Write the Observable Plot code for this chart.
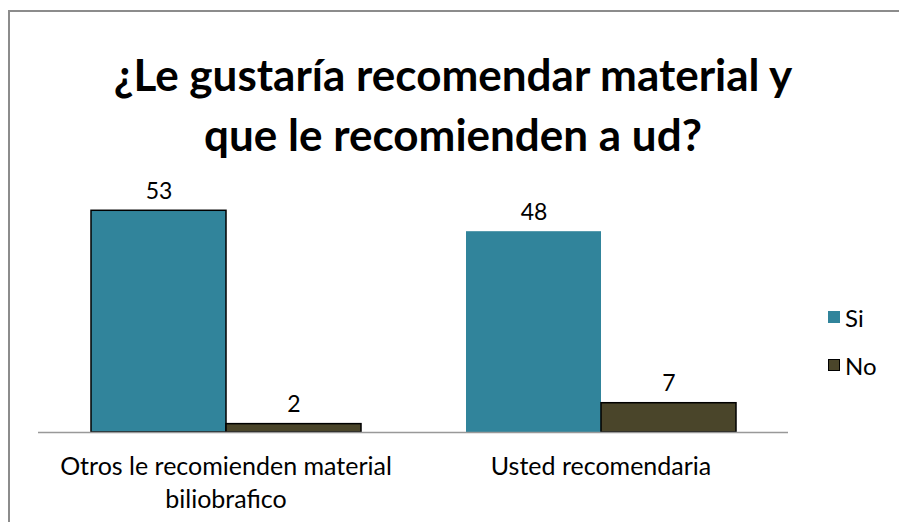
<!DOCTYPE html>
<html><head><meta charset="utf-8">
<script src="https://cdn.jsdelivr.net/npm/d3@7"></script>
<script src="https://cdn.jsdelivr.net/npm/@observablehq/plot@0.6"></script>
<style>
html,body{margin:0;padding:0;background:#fff;overflow:hidden;}
#wrap{position:relative;width:899px;height:522px;overflow:hidden;font-family:Lato,"Open Sans",sans-serif;color:#000;}
#frameTop{position:absolute;left:8px;top:10px;width:891px;height:2px;background:#8c8c8c;}
#frameLeft{position:absolute;left:8px;top:10px;width:2px;height:512px;background:#8c8c8c;}
#title{position:absolute;left:0;width:906px;top:44px;text-align:center;font-weight:bold;font-size:44px;line-height:60px;}
#chart{position:absolute;left:0;top:170px;}
#legend{position:absolute;left:828px;top:302px;font-size:24px;}
.item{display:flex;align-items:center;height:30px;margin-bottom:18px;}
.sw{width:12px;height:12px;margin-right:5px;box-sizing:border-box;}
</style></head>
<body>
<div id="wrap">
  <div id="frameTop"></div>
  <div id="frameLeft"></div>
  <div id="title">¿Le gustaría recomendar material y<br>que le recomienden a ud?</div>
  <div id="chart"></div>
  <div id="legend"></div>
</div>
<script>
const categories = ["Otros le recomienden material biliobrafico", "Usted recomendaria"];
const categoryLabels = ["Otros le recomienden material\nbiliobrafico", "Usted recomendaria"];
const series = ["Si", "No"];
const siValues = [53, 48];
const noValues = [2, 7];
const colors = ["#31849b", "#4a452a"];

const data = categories.flatMap((c, i) => [
  {cat: c, serie: series[0], value: siValues[i]},
  {cat: c, serie: series[1], value: noValues[i]}
]);

const chart = Plot.plot({
  width: 899, height: 352,
  marginLeft: 37, marginRight: 111, marginTop: 11, marginBottom: 90,
  style: {fontFamily: "Lato, 'Open Sans', sans-serif", fontSize: "22px", color: "#000", background: "transparent"},
  fx: {domain: categories, padding: 0, label: null},
  x: {domain: series, paddingInner: 0, paddingOuter: 0.386, axis: null},
  y: {domain: [0, 60], axis: null},
  color: {domain: series, range: colors},
  marks: [
    Plot.barY(data, {fx: "cat", x: "serie", y: "value", fill: "serie", inset: 0}),
    Plot.barY(data, {filter: d => d.serie === series[1] || d.cat === categories[0], fx: "cat", x: "serie", y: "value", fill: "serie", stroke: "#000", strokeWidth: 1.5, inset: 0}),
    Plot.ruleY([0], {stroke: "#999", strokeWidth: 1.5}),
    Plot.text(data, {fx: "cat", x: "serie", y: "value", text: d => String(d.value), lineAnchor: "bottom", dy: -12, fontSize: 23, fill: "#000"}),
    Plot.axisFx({anchor: "bottom", label: null, tickSize: 0, tickPadding: 19, fontSize: 25, lineHeight: 1.33,
      tickFormat: d => categoryLabels[categories.indexOf(d)]})
  ]
});
document.getElementById("chart").appendChild(chart);

const legend = document.getElementById("legend");
series.forEach((s, i) => {
  const item = document.createElement("div");
  item.className = "item";
  const sw = document.createElement("div");
  sw.className = "sw";
  sw.style.background = colors[i];
  if (i === 1) sw.style.border = "1.5px solid #000";
  const t = document.createElement("span");
  t.textContent = s;
  item.appendChild(sw); item.appendChild(t);
  legend.appendChild(item);
});
</script>
</body></html>
